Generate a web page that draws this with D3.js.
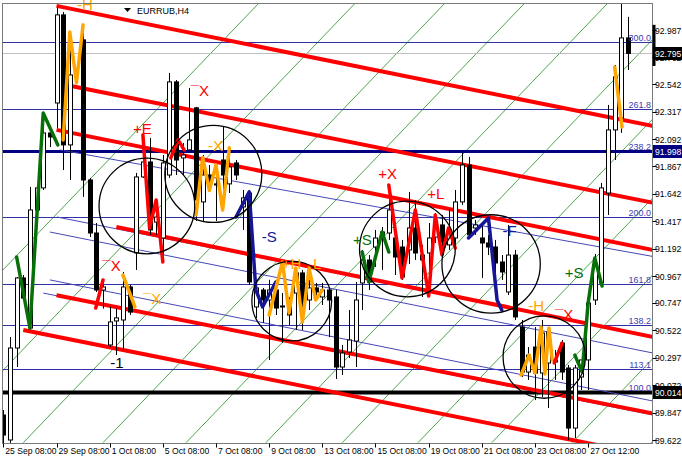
<!DOCTYPE html>
<html><head><meta charset="utf-8">
<script src="https://cdn.jsdelivr.net/npm/d3@7/dist/d3.min.js"></script>
<style>
html,body{margin:0;padding:0;background:#fff;overflow:hidden}
svg{display:block;font-family:"Liberation Sans",Arial,sans-serif}
</style></head><body>
<svg id="chart" width="682" height="459"></svg>
<script>
// ---------- DATA ----------
const symbol = "EURRUB,H4";
const barOpen  = [89.827,89.622,90.377,90.952,90.541,91.510,91.691,92.142,92.388,93.111,92.044,92.618,92.906,91.756,91.321,90.853,90.402,90.599,90.607,90.878,91.157,91.781,91.904,91.411,91.280,91.797,92.561,91.937,92.003,92.348,91.576,91.797,91.715,91.920,91.724,91.896,91.535,91.649,90.714,90.853,90.771,90.853,90.714,90.714,90.828,90.993,90.771,90.870,90.796,90.853,90.796,90.221,90.344,90.434,90.911,91.099,91.206,91.280,91.321,91.280,91.206,91.182,91.362,91.140,91.157,91.288,91.387,91.223,91.280,91.576,91.879,91.362,91.280,91.239,91.206,91.083,90.837,91.140,90.549,90.180,90.385,90.172,90.254,90.262,90.418,90.213,89.720,90.139,90.279,90.771,90.911,91.649,92.167,92.265,92.922];
const barHigh  = [89.868,90.467,90.960,90.976,91.699,91.699,92.306,92.150,93.168,93.135,92.971,92.675,93.029,91.773,91.403,90.935,90.716,90.700,91.001,90.894,91.814,92.126,92.101,91.559,91.961,92.635,92.577,92.060,92.511,92.356,91.961,91.879,91.838,92.191,91.945,91.920,91.674,91.674,90.936,90.870,90.936,90.911,90.828,90.796,91.042,91.018,90.936,90.911,90.911,90.870,90.853,90.402,90.689,90.919,91.182,91.140,91.346,91.370,91.715,91.346,91.264,91.658,91.592,91.223,91.403,91.485,91.469,91.518,91.674,91.978,91.945,91.428,91.387,91.305,91.264,91.140,91.387,91.182,90.607,90.385,90.549,90.607,90.541,90.361,90.443,90.238,90.238,90.279,90.771,91.149,91.732,92.372,92.700,93.209,93.095];
const barLow   = [89.581,89.581,90.221,90.771,90.525,91.493,91.674,92.027,92.183,91.838,91.756,92.577,91.617,91.288,90.837,90.700,90.385,90.319,90.361,90.648,91.018,91.773,91.305,91.305,91.083,91.773,91.797,91.797,91.986,91.420,91.420,91.674,91.420,91.592,91.649,91.756,91.346,90.894,90.623,90.582,90.279,90.648,90.418,90.566,90.525,90.525,90.689,90.771,90.730,90.467,90.123,90.156,90.295,90.221,90.689,90.853,91.042,91.018,91.264,90.976,90.936,91.067,91.100,90.796,90.993,91.239,91.182,91.182,91.223,91.551,91.280,91.305,90.952,91.140,90.936,90.936,90.812,90.607,90.139,90.115,89.950,89.975,89.884,90.115,90.115,89.622,89.638,90.032,90.032,90.730,90.886,91.469,91.920,92.142,92.659];
const barClose = [89.663,90.377,90.952,90.787,91.510,91.691,92.142,92.109,93.111,92.044,92.618,92.659,91.756,91.321,90.853,90.878,90.591,90.624,90.878,90.672,91.781,91.904,91.346,91.452,91.896,92.561,91.920,91.961,92.085,91.592,91.797,91.740,91.724,91.797,91.863,91.797,91.609,90.919,90.870,90.771,90.853,90.705,90.722,90.648,90.993,90.746,90.870,90.837,90.853,90.771,90.221,90.336,90.443,90.771,91.099,90.919,91.280,91.329,91.510,91.124,90.960,91.362,91.157,91.100,91.280,91.387,91.247,91.329,91.576,91.879,91.305,91.387,91.239,91.206,91.075,91.001,91.140,90.632,90.180,90.319,90.172,90.500,90.508,90.279,90.180,89.720,90.213,90.279,90.746,91.067,91.691,92.167,92.602,92.922,92.795];

const timeLabels = ["25 Sep 08:00","29 Sep 08:00","1 Oct 08:00","5 Oct 08:00","7 Oct 08:00","9 Oct 08:00","13 Oct 08:00","15 Oct 08:00","19 Oct 08:00","21 Oct 08:00","23 Oct 08:00","27 Oct 12:00"];
const timeLabelBars = [0,8,16,24,32,40,48,56,64,72,80,88];
const priceTicks = [92.987,92.762,92.542,92.317,92.092,91.867,91.642,91.417,91.192,90.967,90.747,90.522,90.297,90.072,89.847,89.622];

const fibLevels = ["300.0","261.8","238.2","200.0","161.8","138.2","113.1","100.0"];
const fibPrices = [92.885,92.336,91.998,91.449,90.901,90.562,90.202,90.014];
const bidPrice = 92.795;
const hLinePrices = [91.998, 90.014];   // thick horizontal lines with axis boxes

// green diagonal grid: each line runs from bottom price at start bar to top price at end bar
const gridBottomPrice = 89.60, gridTopPrice = 93.21;
const gridStartBars = [-25,-10.5,3,15,27.5,39.5,51,62.4,73.5,85.6,97.5];
const gridEndBars   = [38.5,53,66.5,78.5,91,103,114.5,125.9,137,149.1,161];

// red channel lines [bar1, price1, bar2, price2] (rays to the right)
const redLines = [[8,93.185,94,92.240],[10,92.53,94,91.61],[8,92.167,94,91.223],[17,91.37,94,90.51],[8,90.81,94,89.88],[3,90.525,94,89.53]];
// thin blue channel lines
const blueLines = [[8.5,92.003,94,91.165],[8.1,91.452,94,90.517],[7,91.329,94,90.377],[7,90.936,94,89.983],[6,90.828,94,89.868]];

// zigzag wave segments: [bar, price] points
const zigGreen1  = [[2,91.124],[4,90.541],[6,92.306],[8.2,92.044]];
const zigOrange1 = [[9,92.085],[10,92.971],[11,92.553],[12,93.029]];
const zigRed1    = [[21,92.126],[22,91.362],[23,91.592],[24,91.083]];
const zigRed2    = [[25.2,91.937],[26.3,92.085],[27.2,92.003]];
const zigOrange2 = [[29,91.47],[30,91.94],[31,91.67],[32,91.88],[33,91.51],[34,92.02]];
const zigRed3    = [[13.9,90.705],[15,90.935]];
const zigOrange3 = [[18,90.976],[19.8,90.714]];
const zigBlue1   = [[35,91.452],[37,91.658],[38,90.853],[39,90.714],[41,90.919]];
const zigOrange4 = [[40,90.648],[42,91.083],[43,90.664],[44,91.034],[45,90.590],[46,91.034],[47,90.771],[48,90.853]];
const zigGreen2  = [[54,91.165],[55,90.919],[57,91.329],[58,91.165]];
const zigRed4    = [[58,91.715],[60,90.952],[62,91.510],[64,90.804],[65,91.469],[66,91.140],[67,91.362],[68,91.198]];
const zigBlue2   = [[70,91.280],[73,91.444],[74.3,90.771],[75,90.689]];
const zigOrange5 = [[77.9,90.155],[79.1,90.319],[80,90.172],[80.9,90.549],[81.5,90.164],[82.1,90.541],[82.6,90.279]];
const zigRed5    = [[82.9,90.254],[84.1,90.418]];
const zigGreen3  = [[86,90.319],[87.1,90.180],[88,90.746],[89,91.116],[90.1,90.886]];
const zigOrange6 = [[92,92.684],[93.1,92.191]];

// circles: centre bar, centre price, radius in bars
const circleBars   = [21.6,31.6,43.4,60.8,73.4,81.4];
const circlePrices = [91.543,91.806,90.763,91.190,91.067,90.303];
const circleRadius = [7.2,7.3,6.0,7.2,7.4,6.2];

// text marks
const labelText  = ["-H","+E","¯X","-X","¯X","¯X","-1","-S","+H","L","+S","+X","+L","-F","-H","¯X","+S"];
const labelBar   = [11.1,19.5,28.2,30.8,14.9,21.0,16.1,38.9,41.9,46.6,52.6,56.4,63.8,75.1,79.0,83.0,84.5];
const labelPrice = [93.150,92.134,92.446,91.994,91.009,90.738,90.213,91.247,91.026,91.026,91.223,91.764,91.600,91.297,90.681,90.607,90.952];
const labelKind  = ["o","r","r","o","r","o","k","b","o","o","g","r","r","b","o","r","g"];

// ---------- DRAW ----------
const svg = d3.select("#chart");
const PL=2.5, PT=3.5, PR=652.5, PB=443.5;
const x = d3.scaleLinear().domain([0,94]).range([3.35,628]);
const y = d3.scaleLinear().domain([89.622,92.987]).range([440,30]);
const col = {r:"#ff0000", o:"#ffa500", g:"#087008", b:"#151595", k:"#000000"};

svg.append("rect").attr("width",682).attr("height",459).attr("fill","#fff");
svg.append("defs").append("clipPath").attr("id","clip").append("rect")
  .attr("x",PL).attr("y",PT).attr("width",PR-PL).attr("height",PB-PT);
const g = svg.append("g").attr("clip-path","url(#clip)");

// green grid
g.selectAll(".grid").data(gridStartBars).join("line")
  .attr("x1",(d)=>x(d)).attr("y1",y(gridBottomPrice))
  .attr("x2",(d,i)=>x(gridEndBars[i])).attr("y2",y(gridTopPrice))
  .attr("stroke","#3a9a3a").attr("stroke-width",0.9);

// fib lines
const fibW = [1,1,3,1,1,1,1,4];
const fibC = ["#3030a8","#3030a8","#000080","#3030a8","#3030a8","#3030a8","#3030a8","#000000"];
g.selectAll(".fib").data(fibPrices).join("line")
  .attr("x1",PL).attr("x2",PR).attr("y1",d=>Math.round(y(d))+0.5).attr("y2",d=>Math.round(y(d))+0.5)
  .attr("stroke",(d,i)=>fibC[i]).attr("stroke-width",(d,i)=>fibW[i]);
// bid line
g.append("line").attr("x1",PL).attr("x2",PR).attr("y1",Math.round(y(bidPrice))+0.5).attr("y2",Math.round(y(bidPrice))+0.5)
  .attr("stroke","#c0c0c0").attr("stroke-width",1);

// blue thin lines (rays)
const xEndBar = x.invert(PR+2);
function ray(d){ const s=(d[3]-d[1])/(d[2]-d[0]); return [x(d[0]),y(d[1]),x(xEndBar),y(d[1]+s*(xEndBar-d[0]))]; }
g.selectAll(".bl").data(blueLines).join("line")
  .attr("x1",d=>ray(d)[0]).attr("y1",d=>ray(d)[1]).attr("x2",d=>ray(d)[2]).attr("y2",d=>ray(d)[3])
  .attr("stroke","#4646b8").attr("stroke-width",1);
g.selectAll(".rl").data(redLines).join("line")
  .attr("x1",d=>ray(d)[0]).attr("y1",d=>ray(d)[1]).attr("x2",d=>ray(d)[2]).attr("y2",d=>ray(d)[3])
  .attr("stroke","#ff0000").attr("stroke-width",4);

// candles
const bars = barOpen.map((o,i)=>({i,o,h:barHigh[i],l:barLow[i],c:barClose[i]}));
const cg = g.append("g");
cg.selectAll(".wick").data(bars).join("line")
  .attr("x1",d=>Math.round(x(d.i))+0.5).attr("x2",d=>Math.round(x(d.i))+0.5)
  .attr("y1",d=>y(d.h)).attr("y2",d=>y(d.l)).attr("stroke","#000").attr("stroke-width",1);
cg.selectAll(".body").data(bars).join("rect")
  .attr("x",d=>Math.round(x(d.i))-1.5).attr("width",4)
  .attr("y",d=>y(Math.max(d.o,d.c))).attr("height",d=>Math.max(1,Math.abs(y(d.o)-y(d.c))))
  .attr("fill",d=>d.c>=d.o?"#fff":"#000").attr("stroke","#000").attr("stroke-width",1);

// zigzags
const line = d3.line().x(d=>x(d[0])).y(d=>y(d[1]));
const zigs = [[zigGreen1,"g"],[zigOrange1,"o"],[zigRed1,"r"],[zigRed2,"r"],[zigOrange2,"o"],[zigRed3,"r"],[zigOrange3,"o"],[zigBlue1,"b"],[zigOrange4,"o"],[zigGreen2,"g"],[zigRed4,"r"],[zigBlue2,"b"],[zigOrange5,"o"],[zigRed5,"r"],[zigGreen3,"g"],[zigOrange6,"o"]];
g.selectAll(".zig").data(zigs).join("path")
  .attr("d",d=>line(d[0])).attr("fill","none").attr("stroke",d=>col[d[1]])
  .attr("stroke-width",3.5).attr("stroke-linejoin","round").attr("stroke-linecap","round");

// circles
g.selectAll(".circ").data(circleBars).join("circle")
  .attr("cx",d=>x(d)).attr("cy",(d,i)=>y(circlePrices[i]))
  .attr("r",(d,i)=>x(circleRadius[i])-x(0))
  .attr("fill","none").attr("stroke","#000").attr("stroke-width",1.3);

// labels
svg.selectAll(".lab").data(labelText).join("text")
  .attr("x",(d,i)=>x(labelBar[i])).attr("y",(d,i)=>y(labelPrice[i]))
  .attr("fill",(d,i)=>col[labelKind[i]]).attr("font-size",15).text(d=>d);

// frame
svg.append("rect").attr("x",PL).attr("y",PT).attr("width",PR-PL).attr("height",PB-PT)
  .attr("fill","none").attr("stroke","#7a7a7a").attr("stroke-width",1);

// symbol title
svg.append("path").attr("d","M124,8 L131,8 L127.5,12 Z").attr("fill","#000");
svg.append("text").attr("x",137).attr("y",13.5).attr("font-size",9).attr("fill","#000").text(symbol);

// fib labels
svg.selectAll(".fibl").data(fibLevels).join("text")
  .attr("x",651).attr("y",(d,i)=>Math.round(y(fibPrices[i]))-1).attr("text-anchor","end")
  .attr("font-size",9).attr("fill","#3c3cb0").text(d=>d);

// right axis ticks
svg.selectAll(".pt").data(priceTicks).join("line")
  .attr("x1",PR).attr("x2",PR+4).attr("y1",d=>Math.round(y(d))+0.5).attr("y2",d=>Math.round(y(d))+0.5)
  .attr("stroke","#000");
svg.selectAll(".ptl").data(priceTicks).join("text")
  .attr("x",655).attr("y",d=>y(d)+3.5).attr("font-size",8.6).attr("fill","#000").text(d=>d.toFixed(3));
// current range marker on axis
svg.append("line").attr("x1",654).attr("x2",654).attr("y1",y(barHigh[94])+8).attr("y2",y(barLow[94])-4)
  .attr("stroke","#000").attr("stroke-width",3);
// axis price boxes
const boxPrices = [bidPrice, hLinePrices[0], hLinePrices[1]];
const boxFill = ["#000","#000080","#000"];
svg.selectAll(".bx").data(boxPrices).join("rect")
  .attr("x",653).attr("y",d=>Math.round(y(d))-6).attr("width",30).attr("height",13).attr("fill",(d,i)=>boxFill[i]);
svg.selectAll(".bxt").data(boxPrices).join("text")
  .attr("x",655).attr("y",d=>Math.round(y(d))+4).attr("font-size",8.6).attr("fill","#fff").text(d=>d.toFixed(3));

// time axis
svg.selectAll(".tt").data(timeLabelBars).join("line")
  .attr("x1",d=>Math.round(x(d))+0.5).attr("x2",d=>Math.round(x(d))+0.5).attr("y1",PB).attr("y2",PB+4).attr("stroke","#000");
svg.selectAll(".ttl").data(timeLabels).join("text")
  .attr("x",(d,i)=>x(timeLabelBars[i])+2).attr("y",454).attr("font-size",8.6).attr("fill","#000").text(d=>d);
</script>
</body></html>
